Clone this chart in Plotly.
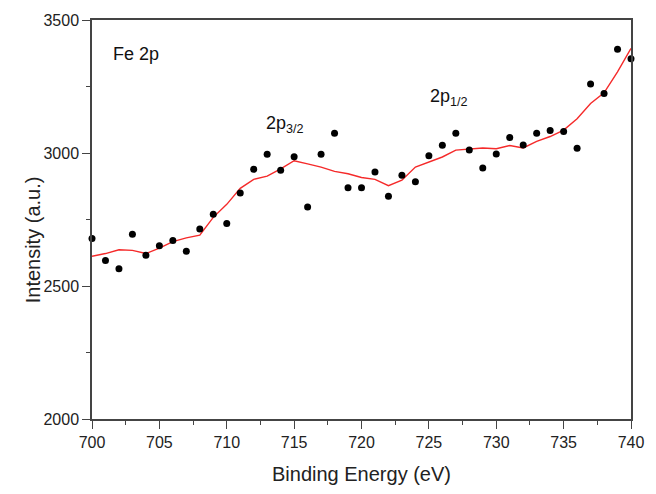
import plotly.graph_objects as go

# Binding energy (eV), measured points
energy = list(range(700, 741))
intensity = [2679, 2596, 2565, 2695, 2616, 2651, 2671, 2631, 2714, 2770,
             2735, 2850, 2939, 2995, 2935, 2986, 2797, 2995, 3074, 2869,
             2869, 2929, 2837, 2916, 2892, 2990, 3029, 3074, 3011, 2944,
             2996, 3058, 3030, 3074, 3085, 3081, 3018, 3259, 3224, 3390,
             3354]
# Smoothed curve
smooth = [2612, 2622, 2636, 2634, 2622, 2642, 2667, 2681, 2691, 2758,
          2807, 2867, 2901, 2913, 2940, 2971, 2959, 2947, 2931, 2922,
          2908, 2901, 2877, 2898, 2947, 2967, 2985, 3011, 3016, 3019,
          3016, 3028, 3019, 3044, 3062, 3086, 3129, 3186, 3226, 3305,
          3393]

x_ticks = [700, 705, 710, 715, 720, 725, 730, 735, 740]
y_ticks = [2000, 2500, 3000, 3500]

FONT = "Liberation Sans, Arial, sans-serif"

fig = go.Figure()
fig.add_trace(go.Scatter(x=energy, y=smooth, mode="lines",
                         line=dict(color="#f52a2a", width=1.4),
                         showlegend=False, hoverinfo="skip"))
fig.add_trace(go.Scatter(x=energy, y=intensity, mode="markers",
                         marker=dict(color="black", size=7),
                         showlegend=False, cliponaxis=False))

axis_common = dict(showgrid=False, zeroline=False, showline=True,
                   linecolor="#444", linewidth=1.5, mirror=True,
                   ticks="outside", ticklen=8, tickwidth=1.2, tickcolor="#444",
                   tickfont=dict(family=FONT, size=16, color="#222"))

fig.update_xaxes(range=[700, 740], tickvals=x_ticks,
                 minor=dict(dtick=2.5, ticklen=4, ticks="outside", tickcolor="#444"),
                 title=dict(text="Binding Energy (eV)",
                            font=dict(family=FONT, size=20, color="#222"),
                            standoff=17),
                 **axis_common)
fig.update_yaxes(range=[2000, 3500], tickvals=y_ticks,
                 minor=dict(dtick=250, ticklen=4, ticks="outside", tickcolor="#444"),
                 **axis_common)

# y-axis title placed as in the reference (slightly below plot centre)
fig.add_annotation(xref="paper", yref="paper", x=-0.132, y=0.45,
                   text="Intensity (a.u.)", textangle=-90, showarrow=False,
                   font=dict(family=FONT, size=20, color="#222"))

fig.add_annotation(x=701.4, y=3372, text="Fe 2p", showarrow=False,
                   xanchor="left", font=dict(family=FONT, size=18, color="#111"))
fig.add_annotation(x=714.3, y=3109, text="2p<sub>3/2</sub>", showarrow=False,
                   font=dict(family=FONT, size=18, color="#111"))
fig.add_annotation(x=726.5, y=3208, text="2p<sub>1/2</sub>", showarrow=False,
                   font=dict(family=FONT, size=18, color="#111"))

fig.update_layout(width=656, height=494,
                  margin=dict(l=92, r=17, t=20, b=63),
                  paper_bgcolor="white", plot_bgcolor="white")

fig.write_html("out.html")
